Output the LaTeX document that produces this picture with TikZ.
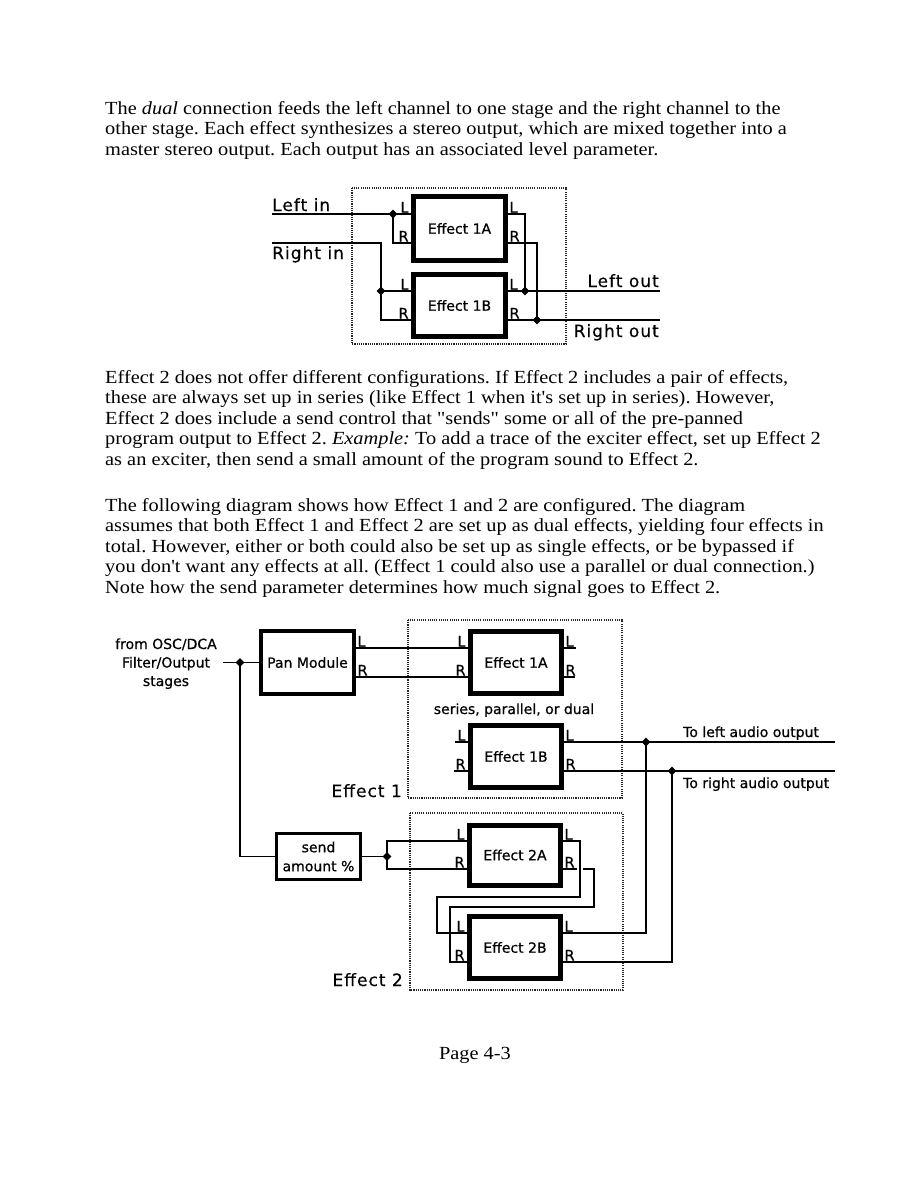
\documentclass[tikz,border=0pt]{standalone}
\usepackage{fontspec}
\setmainfont{Liberation Serif}[Ligatures=TeXOff,FakeStretch=1.10]
\newfontfamily\gen{DejaVu Sans}[FakeBold=0.6]
\newfontfamily\genw{DejaVu Sans}[LetterSpace=6,FakeBold=0.3]
\usetikzlibrary{calc,shapes.geometric}
\newcommand\mkpins[2]{%
  \coordinate (#1-iL) at ([yshift=#2]#1.west);
  \coordinate (#1-iR) at ([yshift=-#2]#1.west);
  \coordinate (#1-oL) at ([yshift=#2]#1.east);
  \coordinate (#1-oR) at ([yshift=-#2]#1.east);}
\newcommand\pinlabels[1]{%
  \node[pinlbl,anchor=south east] (#1-liL) at ([xshift=-4.5pt,yshift=1pt]#1-iL) {L};
  \node[pinlbl,anchor=south east] (#1-liR) at ([xshift=-4.5pt,yshift=1pt]#1-iR) {R};
  \node[pinlbl,anchor=south west] (#1-loL) at ([xshift=3.5pt,yshift=1pt]#1-oL) {L};
  \node[pinlbl,anchor=south west] (#1-loR) at ([xshift=3.5pt,yshift=1pt]#1-oR) {R};}
\begin{document}
\frenchspacing
\begin{tikzpicture}[x=1pt,y=-1pt,
  body/.style={anchor=base west,inner sep=0pt,font=\fontsize{18.5}{20}\selectfont},
  fxbox/.style={draw,line width=5pt,outer sep=0pt,inner sep=0pt,fill=white,
     font=\gen\fontsize{14}{16}\selectfont},
  pinlbl/.style={inner sep=0.3pt,font=\gen\fontsize{14.5}{16}\selectfont},
  biglbl/.style={inner sep=0pt,font=\genw\fontsize{17}{19}\selectfont},
  smlbl/.style={inner sep=0pt,font=\gen\fontsize{14}{18.5}\selectfont},
  wire/.style={line width=1.3pt},
  dotbox/.style={draw=black!85,line width=2.8pt,dash pattern=on 1.1pt off 1.1pt},
  jdot/.style={diamond,fill=black,inner sep=0pt,minimum size=9pt}]
\fill[white] (0,0) rectangle (918,1188);
\useasboundingbox (0,0) rectangle (918,1188);

% ---------- paragraph 1
\node[body] (p1a) at (105,115) {The \emph{dual} connection feeds the left channel to one stage and the right channel to the};
\node[body] (p1b) at (105,135) {other stage. Each effect synthesizes a stereo output, which are mixed together into a};
\node[body] (p1c) at (105,155) {master stereo output. Each output has an associated level parameter.};

% ---------- top diagram
\draw[dotbox] (352,188) rectangle (566,344);
\node[fxbox,minimum width=92pt,minimum height=64pt] (t1a) at (459.5,228.5) {Effect 1A};
\node[fxbox,minimum width=92pt,minimum height=62pt] (t1b) at (459.5,305.5) {Effect 1B};
\mkpins{t1a}{14.5pt}
\mkpins{t1b}{14.5pt}
\pinlabels{t1a}
\pinlabels{t1b}

\node[biglbl,anchor=base west] (leftin) at (272,211) {Left in};
\node[biglbl,anchor=base west] (rightin) at (272,259) {Right in};
\node[biglbl,anchor=base east] (leftout) at (659,287) {Left out};
\node[biglbl,anchor=base east] (rightout) at (659,337) {Right out};

\coordinate (lin) at (272,214);
\coordinate (rin) at (272,243);
\coordinate (lout) at (660,291);
\coordinate (rout) at (660,320);
\coordinate (d1) at (393,214);
\coordinate (d2) at (381,291);
\coordinate (d3) at (525,291);
\coordinate (d4) at (537,320);

\draw[wire] (lin) -- (t1a-iL);
\draw[wire] (d1) |- (t1a-iR);
\draw[wire] (rin) -| (d2);
\draw[wire] (d2) -- (t1b-iL);
\draw[wire] (d2) |- (t1b-iR);
\draw[wire] (t1a-oL) -| (d3);
\draw[wire] (t1a-oR) -| (d4);
\draw[wire] (t1b-oL) -- (lout);
\draw[wire] (t1b-oR) -- (rout);
\foreach \d in {d1,d2,d3,d4} \node[jdot] at (\d) {};

% ---------- paragraph 2
\node[body] (p2a) at (105,383) {Effect 2 does not offer different configurations. If Effect 2 includes a pair of effects,};
\node[body] (p2b) at (105,403.5) {these are always set up in series (like Effect 1 when it's set up in series). However,};
\node[body] (p2c) at (105,424) {Effect 2 does include a send control that "sends" some or all of the pre-panned};
\node[body] (p2d) at (105,444.5) {program output to Effect 2. \emph{Example:} To add a trace of the exciter effect, set up Effect 2};
\node[body] (p2e) at (105,465) {as an exciter, then send a small amount of the program sound to Effect 2.};

% ---------- paragraph 3
\node[body] (p3a) at (105,511) {The following diagram shows how Effect 1 and 2 are configured. The diagram};
\node[body] (p3b) at (105,531.5) {assumes that both Effect 1 and Effect 2 are set up as dual effects, yielding four effects in};
\node[body] (p3c) at (105,552) {total. However, either or both could also be set up as single effects, or be bypassed if};
\node[body] (p3d) at (105,572.5) {you don't want any effects at all. (Effect 1 could also use a parallel or dual connection.)};
\node[body] (p3e) at (105,593) {Note how the send parameter determines how much signal goes to Effect 2.};

% ---------- bottom diagram
\draw[dotbox] (408,620) rectangle (622,798);
\draw[dotbox] (410,813) rectangle (623,990);
\node[biglbl,anchor=base east] (eff1) at (402,797) {Effect 1};
\node[biglbl,anchor=base east] (eff2) at (403,986) {Effect 2};

\node[fxbox,line width=4pt,minimum width=93pt,minimum height=63pt] (pan) at (307.5,662.5) {Pan Module};
\node[fxbox,minimum width=91pt,minimum height=62pt] (b1a) at (516,662.5) {Effect 1A};
\node[fxbox,minimum width=91pt,minimum height=62pt] (b1b) at (516,756.5) {Effect 1B};
\node[fxbox,minimum width=91pt,minimum height=60pt] (b2a) at (515,855) {Effect 2A};
\node[fxbox,minimum width=91pt,minimum height=62pt] (b2b) at (515,947.5) {Effect 2B};
\node[fxbox,line width=3pt,minimum width=84pt,minimum height=46pt,align=center,
      font=\gen\fontsize{14}{19}\selectfont] (send) at (318.5,856.5) {send\\amount \%};
\mkpins{pan}{14.5pt}
\mkpins{b1a}{14.5pt}
\mkpins{b1b}{14.5pt}
\mkpins{b2a}{14pt}
\mkpins{b2b}{14.5pt}
\pinlabels{b1a}
\pinlabels{b1b}
\pinlabels{b2a}
\pinlabels{b2b}
\node[pinlbl,anchor=south west] (pan-loL) at ([xshift=3pt,yshift=1pt]pan-oL) {L};
\node[pinlbl,anchor=south west] (pan-loR) at ([xshift=3pt,yshift=1pt]pan-oR) {R};

\node[smlbl,align=center,anchor=base] (srclbl) at (166,686) {from OSC/DCA\\Filter/Output\\stages};
\node[smlbl,anchor=base] (spd) at (514,714) {series, parallel, or dual};
\node[smlbl,anchor=base west] (tola) at (683,737) {To left audio output};
\node[smlbl,anchor=base west] (tora) at (683,788) {To right audio output};

\coordinate (srcpt) at (223,662.5);
\coordinate (d5) at (240,662.5);
\coordinate (d6) at (646,742);
\coordinate (d7) at (672,771);
\coordinate (d8) at (387,856.5);
\coordinate (laud) at (835,742);
\coordinate (raud) at (835,771);
\coordinate (c1) at (580,897);
\coordinate (c2) at (437,897);
\coordinate (c3) at (594,907);
\coordinate (c4) at (450,907);

\draw[wire] (srcpt) -- (pan.west);
\draw[wire] (d5) |- (send.west);
\draw[wire] (pan-oL) -- (b1a-iL);
\draw[wire] (pan-oR) -- (b1a-iR);
\draw[wire] (b1a-oL) -- ++(14,0);
\draw[wire] (b1a-oR) -- ++(13,0);
\draw[wire] (b1b-iL) -- ++(-16,0);
\draw[wire] (b1b-iR) -- ++(-17,0);
\draw[wire] (b1b-oL) -- (laud);
\draw[wire] (b1b-oR) -- (raud);
\draw[wire] (send.east) -- (d8);
\draw[wire] (b2a-iL) -| (d8) |- (b2a-iR);
\draw[wire] (b2a-oR) -| (c3) -- (c4) |- (b2b-iR);
\fill[white] (577,866) rectangle (583,873);
\draw[wire] (b2a-oL) -| (c1) -- (c2) |- (b2b-iL);
\draw[wire] (b2b-oL) -| (d6);
\draw[wire] (b2b-oR) -| (d7);
\foreach \d in {d5,d6,d7,d8} \node[jdot] at (\d) {};

% ---------- page number
\node[anchor=base,inner sep=0pt,font=\fontsize{18.5}{20}\selectfont] (pg) at (475,1059) {Page 4-3};
\end{tikzpicture}
\end{document}
